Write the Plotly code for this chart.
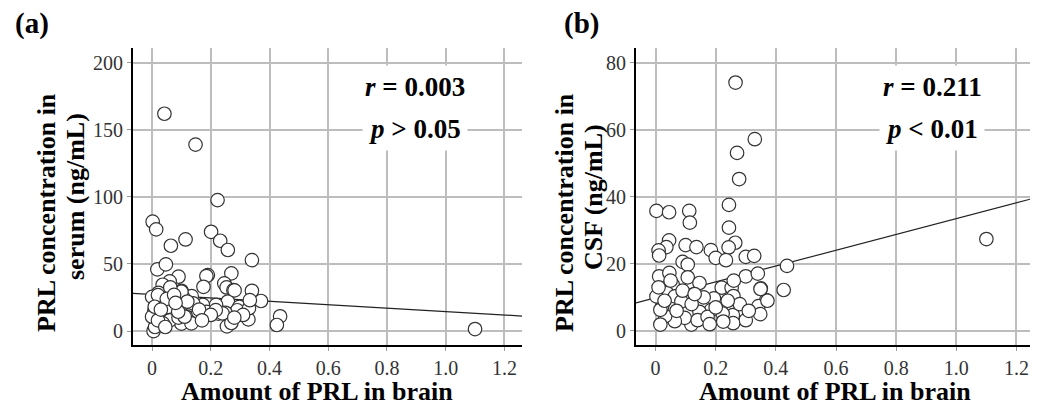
import plotly.graph_objects as go
import numpy as np

# ---------------- data ----------------
brain_a = [0.042, 0.148, 0.223, 0.002, 0.014, 0.064, 0.114, 0.201, 0.232, 0.258, 0.34,
           0.018, 0.047, 0.09, 0.19, 0.185, 0.27, 0.246, 0.254, 0.277, 0.175, 0.059, 0.06,
           0.036, 0.1, 0.135, 0.105, 0.022, 0.34, 0.335, 0.371, 0.258, 0.218, 0.173, 0.297,
           0.29, 0.328, 0.25, 0.226, 0.186, 0.154, 0.115, 0.095, 0.066, 0.043, 0.014, 0.008,
           0.03, 0.023, 0.0, 0.07, 0.13, 0.1, 0.025, 0.005, 0.255, 0.27, 0.436, 0.425, 0.06,
           0.09, 0.33, 1.10, 0.02, 0.1, 0.281, 0.333, 0.24, 0.217, 0.134, 0.111, 0.037, 0.01,
           0.0, 0.009, 0.055, 0.089, 0.14, 0.062, 0.12, 0.16, 0.05, 0.075, 0.2, 0.31, 0.02, 0.045,
           0.08, 0.03, 0.17, 0.28]
serum = [162, 139, 97.6, 81.5, 75.8, 63.6, 68.3, 74, 67.3, 60.4, 52.9,
         46, 49.7, 40.5, 41.7, 41, 43, 35.5, 32.5, 30.5, 33, 33, 37,
         34.5, 30, 26, 25.5, 28.5, 30, 22, 22.4, 22, 19.5, 19.5, 18,
         15.5, 8.7, 13.6, 13, 14.3, 12, 11, 14.5, 15.5, 12, 11, 15.5,
         22, 19.5, 25.5, 18, 6.5, 5.5, 6, 0, 3.5, 6, 11, 4.5, 8,
         10, 17, 1.5, 26.8, 29.3, 30.3, 23, 13.2, 15.6, 5.7, 10.7, 5.7, 3,
         10.7, 18.1, 18, 14.4, 20.6, 32.5, 22, 16, 24, 27, 12, 12, 8, 3,
         21, 16, 8, 10]

brain_b = [0.266, 0.33, 0.271, 0.278, 0.003, 0.045, 0.112, 0.114, 0.244, 0.244, 0.265,
           0.243, 0.045, 0.036, 0.01, 0.012, 0.1, 0.136, 0.184, 0.2, 0.234, 0.3, 0.328,
           0.09, 0.107, 0.437, 0.012, 0.046, 0.107, 0.146, 0.057, 0.3, 0.34, 0.426, 0.35,
           0.22, 0.253, 0.259, 0.194, 0.368, 0.342, 0.348, 0.3, 0.257, 0.223, 0.184, 0.146,
           0.119, 0.097, 0.064, 0.032, 0.016, 0.022, 0.038, 0.064, 0.003, 0.086, 0.14, 0.173,
           0.258, 0.225, 0.016, 0.372, 0.349, 1.10, 0.07, 0.12, 0.05, 0.16, 0.28, 0.2, 0.26,
           0.01, 0.09, 0.31, 0.03, 0.13, 0.24, 0.18]
csf = [74.1, 57.2, 53.1, 45.3, 35.8, 35.4, 35.8, 32.3, 37.6, 30.8, 26.3,
       24.9, 27, 25, 24, 22.5, 25.6, 25, 24.1, 21.8, 21.1, 22.1, 22.4,
       20.6, 19.8, 19.4, 16.3, 17.3, 16, 14.3, 13.8, 16.3, 17.1, 12.2, 12.7,
       12.9, 12.9, 10.4, 9.7, 9.2, 7.4, 5, 3.2, 4.7, 5.2, 6.2, 5.7,
       1.9, 3.9, 2.9, 4.4, 1.9, 7.3, 11.3, 10.3, 10.3, 8.8, 3.2, 4.2,
       2.3, 2.8, 6.3, 9, 12.5, 27.4, 6, 8, 15, 10, 8, 7, 15,
       13, 12, 6, 9, 11, 9, 2]

fit_a = (27.2, -12.7)   # intercept, slope
fit_b = (9.9, 23.6)

stats_a = ["<b><i>r</i> = 0.003</b>", "<b><i>p</i> &gt; 0.05</b>"]
stats_b = ["<b><i>r</i> = 0.211</b>", "<b><i>p</i> &lt; 0.01</b>"]

x_ticks = [0, 0.2, 0.4, 0.6, 0.8, 1.0, 1.2]
x_ticktext = ["0", "0.2", "0.4", "0.6", "0.8", "1.0", "1.2"]
y_ticks_a = [0, 50, 100, 150, 200]
y_ticks_b = [0, 20, 40, 60, 80]

x_title = "Amount of PRL in brain"
y_title_a = ["PRL concentration in", "serum (ng/mL)"]
y_title_b = ["PRL concentration in", "CSF (ng/mL)"]

# ---------------- figure ----------------
W, H = 1045, 414
FONT = "Liberation Serif"
fig = go.Figure()

xr_a = [-0.065, 1.26]
xr_b = [-0.065, 1.245]

def fit_line(fit, xr):
    xs = np.array(xr)
    return xs, fit[0] + fit[1] * xs

for fit, xr, xa, ya in [(fit_a, xr_a, "x", "y"), (fit_b, xr_b, "x2", "y2")]:
    lx, ly = fit_line(fit, xr)
    fig.add_trace(go.Scatter(x=lx, y=ly, mode="lines", line=dict(color="#222", width=1.2),
                             xaxis=xa, yaxis=ya, showlegend=False, hoverinfo="skip"))

marker = dict(size=13.5, color="white", line=dict(color="#333", width=1.2))
fig.add_trace(go.Scatter(x=brain_a, y=serum, mode="markers", marker=marker,
                         xaxis="x", yaxis="y", showlegend=False))
fig.add_trace(go.Scatter(x=brain_b, y=csf, mode="markers", marker=marker,
                         xaxis="x2", yaxis="y2", showlegend=False))

axis_common = dict(showgrid=True, gridcolor="#bdbdbd", gridwidth=1.5,
                   showline=True, linecolor="black", linewidth=2,
                   ticks="outside", ticklen=4, tickcolor="#999", tickwidth=1,
                   tickfont=dict(family=FONT, size=20, color="#333"),
                   zeroline=False, mirror=False)

fig.update_layout(
    width=W, height=H,
    margin=dict(l=0, r=0, t=48, b=69),
    paper_bgcolor="white", plot_bgcolor="white",
    font=dict(family=FONT),
    xaxis=dict(domain=[133 / W, 522 / W], range=xr_a, tickvals=x_ticks,
               ticktext=x_ticktext, anchor="y", **axis_common),
    yaxis=dict(domain=[0, 1], range=[-10.4, 211], tickvals=y_ticks_a, anchor="x", **axis_common),
    xaxis2=dict(domain=[636 / W, 1030 / W], range=xr_b, tickvals=x_ticks,
                ticktext=x_ticktext, anchor="y2", **axis_common),
    yaxis2=dict(domain=[0, 1], range=[-4.2, 84.4], tickvals=y_ticks_b, anchor="x2", **axis_common),
)

def py(p):  # pixel y -> paper y
    return (345 - p) / 297

ann = []
for texts, cx in [(stats_a, 415), (stats_b, 932)]:
    for t, cy in zip(texts, [87, 129]):
        ann.append(dict(text=t, x=cx / W, y=py(cy), xref="paper", yref="paper",
                        xanchor="center", yanchor="middle", showarrow=False,
                        bgcolor="white", borderpad=6,
                        font=dict(family=FONT, size=27, color="black")))
for cx in [317, 835]:
    ann.append(dict(text="<b>" + x_title + "</b>", x=cx / W, y=py(391), xref="paper", yref="paper",
                    xanchor="center", yanchor="middle", showarrow=False,
                    font=dict(family=FONT, size=26, color="black")))
for lines, xs in [(y_title_a, [46, 75]), (y_title_b, [564, 593])]:
    for t, cx, cy in zip(lines, xs, [213, 197]):
        ann.append(dict(text="<b>" + t + "</b>", x=cx / W, y=py(cy), xref="paper", yref="paper",
                        xanchor="center", yanchor="middle", showarrow=False, textangle=-90,
                        font=dict(family=FONT, size=26, color="black")))
for t, cx in [("(a)", 32), ("(b)", 581)]:
    ann.append(dict(text="<b>" + t + "</b>", x=cx / W, y=py(24), xref="paper", yref="paper",
                    xanchor="center", yanchor="middle", showarrow=False,
                    font=dict(family=FONT, size=29, color="black")))
fig.update_layout(annotations=ann)

fig.write_html("out.html")
